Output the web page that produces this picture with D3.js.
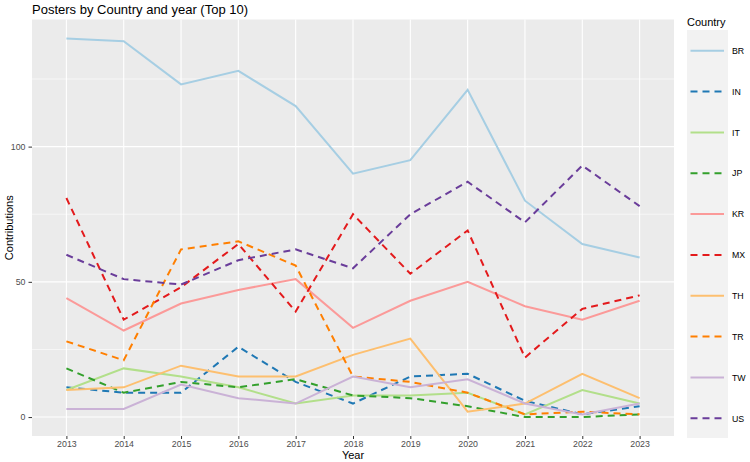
<!DOCTYPE html>
<html>
<head>
<meta charset="utf-8">
<script src="https://cdn.jsdelivr.net/npm/d3@7"></script>
<style>
  body { margin: 0; background: #fff; }
  text { font-family: "Liberation Sans", Arial, sans-serif; }
</style>
</head>
<body>
<svg id="chart" width="750" height="462"></svg>
<script>
// years on the x axis
const years = [2013, 2014, 2015, 2016, 2017, 2018, 2019, 2020, 2021, 2022, 2023];
const countries = ["BR", "IN", "IT", "JP", "KR", "MX", "TH", "TR", "TW", "US"];

// contributions per country
const BR = [140, 139, 123, 128, 115, 90, 95, 121, 80, 64, 59];
const IN = [11, 9, 9, 26, 13, 5, 15, 16, 6, 1, 4];
const IT = [10, 18, 15, 11, 5, 8, 8, 9, 1, 10, 5];
const JP = [18, 9, 13, 11, 14, 8, 7, 4, 0, 0, 1];
const KR = [44, 32, 42, 47, 51, 33, 43, 50, 41, 36, 43];
const MX = [81, 36, 48, 64, 39, 75, 53, 69, 22, 40, 45];
const TH = [10, 11, 19, 15, 15, 23, 29, 2, 5, 16, 7];
const TR = [28, 21, 62, 65, 56, 15, 13, 9, 1, 2, 1];
const TW = [3, 3, 12, 7, 5, 15, 11, 14, 5, 1, 5];
const US = [60, 51, 49, 58, 62, 55, 75, 87, 72, 93, 78];

const yTicks = [0, 50, 100];
const yMinor = [25, 75, 125];

const series = [BR, IN, IT, JP, KR, MX, TH, TR, TW, US];

const svg = d3.select("#chart");
const panel = { left: 32, right: 674, top: 19.5, bottom: 436 };

// discrete-like x: 0.6 step padding either side
const x = d3.scalePoint()
    .domain(years)
    .range([panel.left, panel.right])
    .padding(0.6);

const yMax = d3.max(series, s => d3.max(s));
const y = d3.scaleLinear()
    .domain([-yMax * 0.05, yMax * 1.05])
    .range([panel.bottom, panel.top]);

const color = d3.scaleOrdinal().domain(countries).range(d3.schemePaired);
const dashed = (c, i) => i % 2 === 1;

// title
svg.append("text")
    .attr("x", 32)
    .attr("y", 14)
    .attr("font-size", "13px")
    .attr("fill", "#000")
    .text("Posters by Country and year (Top 10)");

// panel background
svg.append("rect")
    .attr("x", panel.left)
    .attr("y", panel.top)
    .attr("width", panel.right - panel.left)
    .attr("height", panel.bottom - panel.top)
    .attr("fill", "#EBEBEB");

// grid lines
svg.append("g").selectAll("line")
    .data(yMinor)
    .enter().append("line")
    .attr("x1", panel.left).attr("x2", panel.right)
    .attr("y1", d => y(d)).attr("y2", d => y(d))
    .attr("stroke", "#fff")
    .attr("stroke-width", 0.6);

svg.append("g").selectAll("line")
    .data(yTicks)
    .enter().append("line")
    .attr("x1", panel.left).attr("x2", panel.right)
    .attr("y1", d => y(d)).attr("y2", d => y(d))
    .attr("stroke", "#fff")
    .attr("stroke-width", 1.1);

svg.append("g").selectAll("line")
    .data(years)
    .enter().append("line")
    .attr("x1", d => x(d)).attr("x2", d => x(d))
    .attr("y1", panel.top).attr("y2", panel.bottom)
    .attr("stroke", "#fff")
    .attr("stroke-width", 1.1);

// axes
const xAxis = d3.axisBottom(x).tickSize(3).tickPadding(1.5);
const gx = svg.append("g")
    .attr("transform", `translate(0, ${panel.bottom})`)
    .call(xAxis);
gx.select(".domain").remove();
gx.selectAll(".tick line").attr("stroke", "#333");
gx.selectAll(".tick text").attr("fill", "#4D4D4D").attr("font-size", "8.8px")
    .attr("font-family", "Liberation Sans, Arial, sans-serif");

const yAxis = d3.axisLeft(y).tickValues(yTicks).tickSize(3.5).tickPadding(3);
const gy = svg.append("g")
    .attr("transform", `translate(${panel.left}, 0)`)
    .call(yAxis);
gy.select(".domain").remove();
gy.selectAll(".tick line").attr("stroke", "#333");
gy.selectAll(".tick text").attr("fill", "#4D4D4D").attr("font-size", "8.8px")
    .attr("font-family", "Liberation Sans, Arial, sans-serif");

// axis titles
svg.append("text")
    .attr("x", (panel.left + panel.right) / 2)
    .attr("y", 459)
    .attr("text-anchor", "middle")
    .attr("font-size", "11px")
    .text("Year");

svg.append("text")
    .attr("transform", `translate(13, ${(panel.top + panel.bottom) / 2}) rotate(-90)`)
    .attr("text-anchor", "middle")
    .attr("font-size", "11px")
    .text("Contributions");

// lines
const line = d3.line()
    .x((d, i) => x(years[i]))
    .y(d => y(d));

svg.append("g").selectAll("path")
    .data(series)
    .enter().append("path")
    .attr("d", d => line(d))
    .attr("fill", "none")
    .attr("stroke", (d, i) => color(countries[i]))
    .attr("stroke-width", 2)
    .attr("stroke-dasharray", (d, i) => dashed(d, i) ? "7,5" : null);

// legend
const legend = svg.append("g");
legend.append("text")
    .attr("x", 687)
    .attr("y", 26)
    .attr("font-size", "11px")
    .text("Country");

legend.append("rect")
    .attr("x", 687)
    .attr("y", 30)
    .attr("width", 41)
    .attr("height", 408)
    .attr("fill", "#F2F2F2");

const keyY = d3.scalePoint().domain(countries).range([50.7, 418.3]);

legend.selectAll("line.key")
    .data(countries)
    .enter().append("line")
    .attr("class", "key")
    .attr("x1", 690.5).attr("x2", 724)
    .attr("y1", d => keyY(d)).attr("y2", d => keyY(d))
    .attr("stroke", d => color(d))
    .attr("stroke-width", 2)
    .attr("stroke-dasharray", (d, i) => dashed(d, i) ? "7,5" : null);

legend.selectAll("text.lab")
    .data(countries)
    .enter().append("text")
    .attr("class", "lab")
    .attr("x", 732)
    .attr("y", d => keyY(d) + 3.2)
    .attr("font-size", "8.8px")
    .attr("fill", "#000")
    .text(d => d);
</script>
</body>
</html>
